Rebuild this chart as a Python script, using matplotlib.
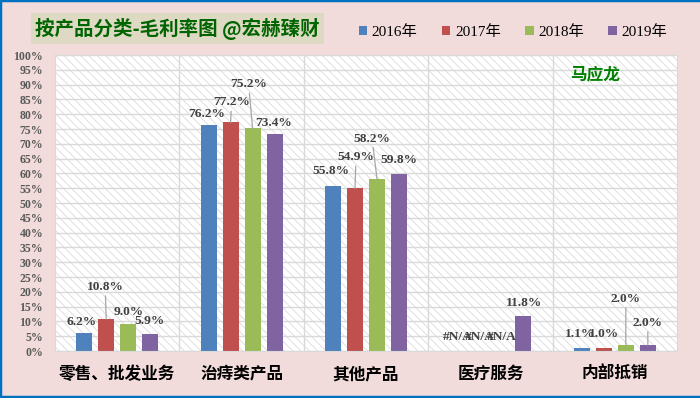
import numpy as np
import matplotlib.pyplot as plt
from matplotlib.patches import Rectangle
from matplotlib.lines import Line2D

categories = ['零售、批发业务', '治痔类产品', '其他产品', '医疗服务', '内部抵销']
years = ['2016年', '2017年', '2018年', '2019年']
margin_2016 = [6.2, 76.2, 55.8, np.nan, 1.1]
margin_2017 = [10.8, 77.2, 54.9, np.nan, 1.0]
margin_2018 = [9.0, 75.2, 58.2, np.nan, 2.0]
margin_2019 = [5.9, 73.4, 59.8, 11.8, 2.0]

series = [margin_2016, margin_2017, margin_2018, margin_2019]
colors = ['#4F81BD', '#C0504D', '#9BBB59', '#8064A2']

# label offsets in pixels (dx, dy) relative to bar top, hand placed like the excel original
label_offsets = [
    [(-3, 11), (-2, 11), (-2, 15), (0, 14), (-2, 14)],
    [(-1, 32), (1, 20), (1, 31), (0, 14), (0, 14)],
    [(0, 12), (-4, 44), (-5, 40), (0, 14), (0, 46)],
    [(-1, 13), (-1, 11), (0, 14), (1, 13), (0, 22)],
]

plt.rcParams['hatch.linewidth'] = 0.6
serif_bold = dict(family='Liberation Serif', weight='bold')
cjk = ['Noto Sans CJK SC', 'DejaVu Sans']

fig = plt.figure(figsize=(7, 3.98), dpi=100, facecolor='#F2DCDB')
ax = fig.add_axes([55 / 700, 47 / 398, 622 / 700, 296 / 398])
ax.set_facecolor('white')
ax.add_patch(Rectangle((0, 0), 1, 1, transform=ax.transAxes, facecolor='white',
                       edgecolor='#DADADA', hatch='\\\\\\\\', lw=0, zorder=0))

x = np.arange(len(categories))
width = 0.129
step = 0.177
for i, (vals, c, yr) in enumerate(zip(series, colors, years)):
    pos = x + (i - 1.5) * step
    heights = np.nan_to_num(np.array(vals, dtype=float)) / 100
    ax.bar(pos, heights, width, color=c, label=yr, zorder=2)
    for j, v in enumerate(vals):
        dx, dy = label_offsets[i][j]
        txt = '#N/A' if np.isnan(v) else f'{v:.1f}%'
        arrow = None
        if dy >= 20:
            arrow = dict(arrowstyle='-', color='#A6A6A6', lw=0.9, shrinkA=0, shrinkB=0)
        ax.annotate(txt, xy=(pos[j], heights[j]), xytext=(dx, dy), textcoords='offset pixels',
                    ha='center', va='center', fontsize=9.6, color='#404040',
                    arrowprops=arrow, zorder=4, **serif_bold)

ax.set_xlim(-0.5, len(categories) - 0.5)
ax.set_ylim(0, 1)
ax.set_yticks(np.arange(0, 1.001, 0.05))
ax.set_yticklabels([f'{int(round(t * 100))}%' for t in np.arange(0, 1.001, 0.05)],
                   fontsize=8.5, color='#595959', **serif_bold)
ax.set_xticks(x)
ax.set_xticklabels(categories, fontsize=12, fontweight='bold', family=cjk, color='black')
ax.set_xticks(x[:-1] + 0.5, minor=True)
ax.tick_params(axis='y', length=0, pad=8.5)
ax.tick_params(axis='x', which='both', length=0, pad=10)
ax.set_axisbelow(True)
ax.grid(axis='y', which='major', color='#D9D9D9', lw=1)
ax.grid(axis='x', which='minor', color='#D9D9D9', lw=1)
ax.grid(axis='x', which='major', visible=False)
for s in ax.spines.values():
    s.set_color('#D9D9D9')

# title with box
fig.text(177.5 / 700, 1 - 28.5 / 398, '按产品分类-毛利率图 @宏赫臻财', ha='center', va='center',
         fontsize=14, fontweight='bold', family=cjk, color='#006400',
         bbox=dict(facecolor='#DDD9C3', edgecolor='none', pad=3))

fig.text(595 / 700, 1 - 74 / 398, '马应龙', ha='center', va='center',
         fontsize=12, fontweight='bold', family=cjk, color='#008000')

leg = ax.legend(loc='center', bbox_to_anchor=(513 / 700, 1 - 32 / 398), bbox_transform=fig.transFigure,
                ncol=4, frameon=False, handlelength=0.55, handleheight=0.55, handletextpad=0.3,
                columnspacing=1.6, prop=dict(family=['Liberation Serif', 'Noto Sans CJK SC'], size=11))

# blue frame
for xs, ys in [([0, 0], [0, 1]), ([0, 1], [1, 1]), ([0, 1], [0.002, 0.002])]:
    fig.add_artist(Line2D(xs, ys, transform=fig.transFigure, color='#0070C0', lw=2.5))

fig.savefig('out.png', dpi=100, facecolor=fig.get_facecolor())
